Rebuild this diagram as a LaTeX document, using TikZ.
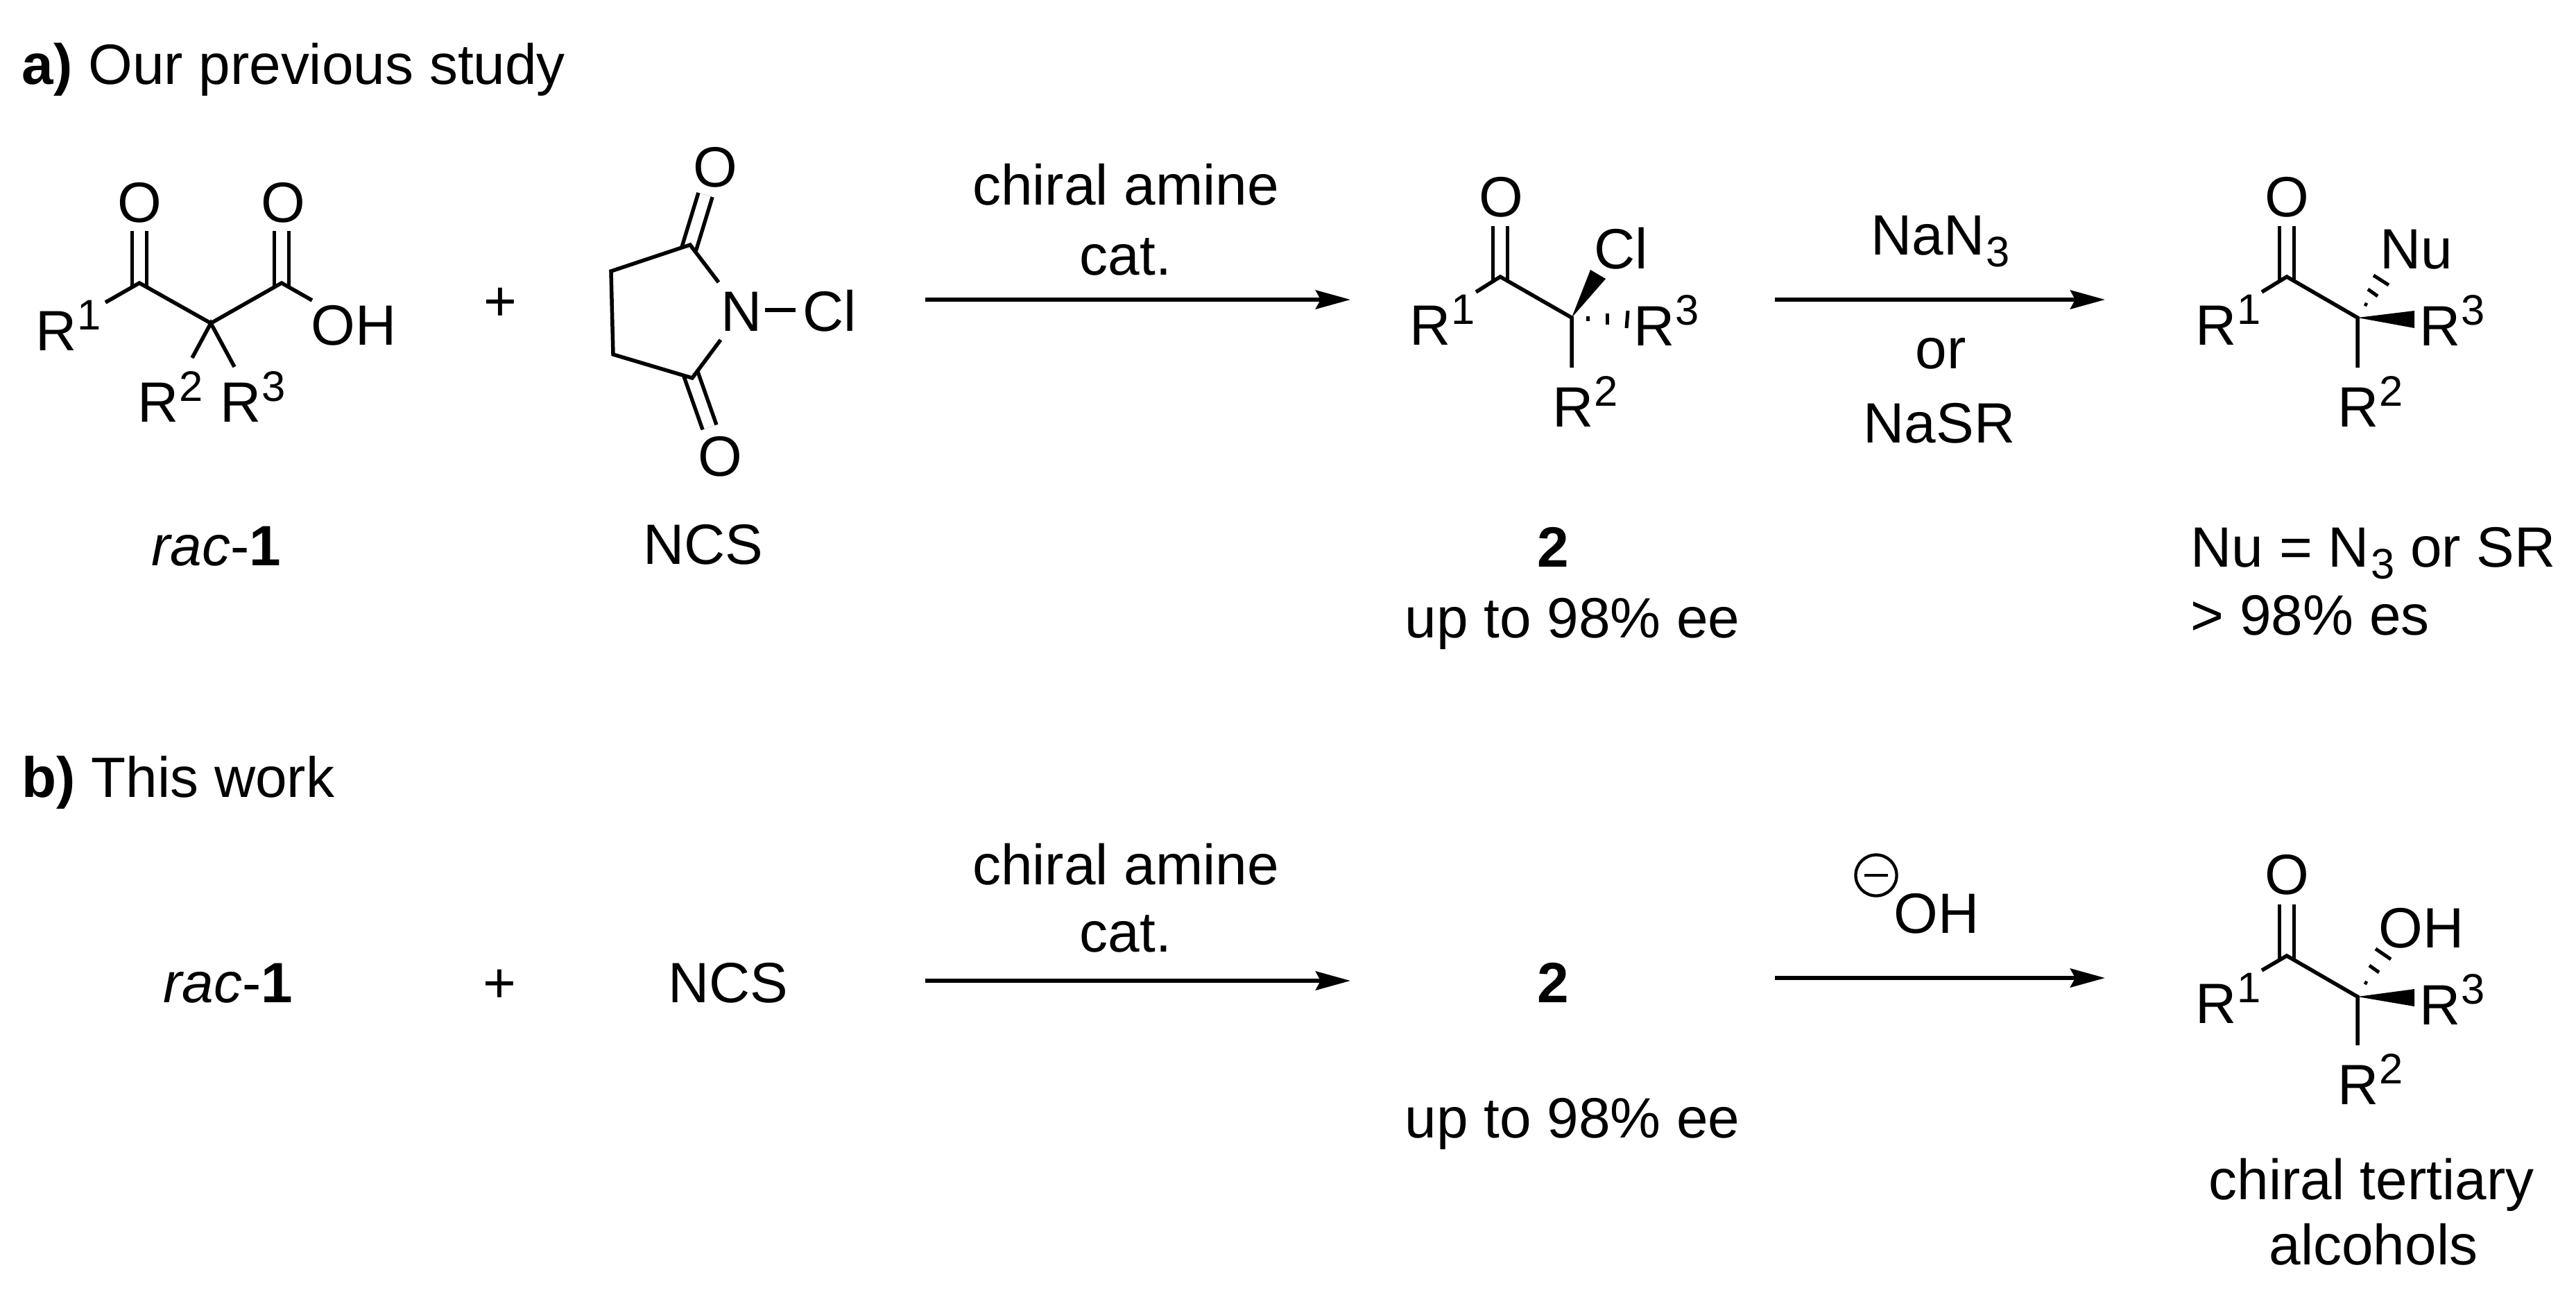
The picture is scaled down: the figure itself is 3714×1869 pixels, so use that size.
\documentclass[tikz,border=0pt]{standalone}
\usepackage{fontspec}
\usepackage{tikz}
\usetikzlibrary{arrows.meta}
\setmainfont{Liberation Sans}
\newcommand{\Rlab}[1]{R\hspace{0.01cm}\raisebox{0.295cm}{\fontsize{17.5}{20}\selectfont #1}}
\newcommand{\Sub}[1]{\hspace{0.02cm}\raisebox{-0.17cm}{\fontsize{17.5}{20}\selectfont #1}}
\tikzset{
  ctr/.style={anchor=base,inner sep=0pt,font=\fontsize{23.3}{28}\selectfont},
  lft/.style={anchor=base west,inner sep=0pt,font=\fontsize{23.3}{28}\selectfont},
  bond/.style={line width=0.055cm},
  hash/.style={line width=0.05cm},
  dbl/.style={line width=0.055cm,double,double distance=0.155cm,shorten <=-0.06cm},
  rxn/.style={line width=0.06cm,-{Stealth[length=0.5cm,width=0.27cm,inset=0.07cm]}}
}

\begin{document}
\begin{tikzpicture}[x=0.01cm,y=-0.01cm]
    \useasboundingbox (0,0) rectangle (3714,1869);

    % headings
    \node [lft] (heada) at (31, 121) {\textbf{a)} Our previous study};
    \node [lft] (headb) at (31, 1149) {\textbf{b)} This work};

    % rac-1
    \coordinate (c1) at (201, 408);
    \coordinate (c2) at (304, 466);
    \coordinate (c3) at (406, 408);
    \coordinate (r1end) at (152, 436);
    \coordinate (ohend) at (450, 433);
    \coordinate (r2end) at (277, 516);
    \coordinate (r3end) at (338, 529);
    \coordinate (o1end) at (201, 333);
    \coordinate (o2end) at (406, 333);
    \node [ctr] (o1) at (201, 320) {O};
    \node [ctr] (o2) at (408, 320) {O};
    \node [lft] (r1) at (51, 505) {\Rlab{1}};
    \node [lft] (oh) at (448, 497) {OH};
    \node [lft] (r2) at (198, 608) {\Rlab{2}};
    \node [lft] (r3) at (317, 608) {\Rlab{3}};
    \draw [dbl] (c1) -- (o1end);
    \draw [dbl] (c3) -- (o2end);
    \draw [bond] (r1end) -- (c1) -- (c2) -- (c3) -- (ohend);
    \draw [bond] (r2end) -- (c2) -- (r3end);
    \node [ctr] (plusa) at (721, 462) {+};
    \node [ctr] (laba) at (312, 815) {\textit{rac}-\textbf{1}};

    % NCS
    \coordinate (nc1) at (995, 353);
    \coordinate (nc2) at (881, 391);
    \coordinate (nc3) at (884, 511);
    \coordinate (nc4) at (998, 545);
    \coordinate (nend1) at (1036, 407);
    \coordinate (nend2) at (1039, 490);
    \coordinate (nclend) at (1147, 447);
    \coordinate (nnend) at (1103, 447);
    \coordinate (no1end) at (1017, 281);
    \coordinate (no2end) at (1023, 616);
    \node [lft] (n) at (1039, 477) {N};
    \node [lft] (cl) at (1157, 477) {Cl};
    \node [ctr] (no1) at (1031, 269) {O};
    \node [ctr] (no2) at (1038, 686) {O};
    \draw [dbl] (nc1) -- (no1end);
    \draw [dbl] (nc4) -- (no2end);
    \draw [bond,line join=miter] (nend1) -- (nc1) -- (nc2) -- (nc3) -- (nc4) -- (nend2);
    \draw [bond] (nnend) -- (nclend);
    \node [ctr] (ncsa) at (1014, 813) {NCS};

    % first arrow
    \coordinate (ara1) at (1334, 432);
    \coordinate (ara2) at (1947, 432);
    \draw [rxn] (ara1) -- (ara2);
    \node [ctr] (cata1) at (1623, 295) {chiral amine};
    \node [ctr] (cata2) at (1623, 396) {cat.};

    % 2
    \coordinate (d1) at (2163, 399);
    \coordinate (d2) at (2266, 458);
    \coordinate (dr1end) at (2128, 421);
    \coordinate (dr2end) at (2266, 530);
    \coordinate (do1end) at (2163, 326);
    \coordinate (dcla) at (2293, 389);
    \coordinate (dclb) at (2315, 402);
    \node [ctr] (do1) at (2164, 312) {O};
    \node [lft] (dcl) at (2298, 387) {Cl};
    \node [lft] (dr1) at (2032, 497) {\Rlab{1}};
    \node [lft] (dr3) at (2355, 498) {\Rlab{3}};
    \node [lft] (dr2) at (2238, 615) {\Rlab{2}};
    \draw [dbl] (d1) -- (do1end);
    \draw [bond] (dr1end) -- (d1) -- (d2) -- (dr2end);
    \fill (d2) -- (dcla) -- (dclb) -- cycle;
    \draw [hash] (2289, 456) -- (2289, 463);
    \draw [hash] (2317, 452) -- (2317, 468);
    \draw [hash] (2347, 448) -- (2345, 473);
    \node [ctr] (lab2a) at (2239, 817) {\textbf{2}};
    \node [ctr] (eea) at (2267, 919) {up to 98\% ee};

    % second arrow
    \coordinate (arb1) at (2559, 432);
    \coordinate (arb2) at (3035, 432);
    \draw [rxn] (arb1) -- (arb2);
    \node [lft] (nan) at (2697, 367) {NaN\Sub{3}};
    \node [ctr] (orr) at (2798, 531) {or};
    \node [lft] (nasr) at (2686, 638) {NaSR};

    % Nu product
    \coordinate (e1) at (3297, 399);
    \coordinate (e2) at (3399, 458);
    \coordinate (er1end) at (3261, 421);
    \coordinate (er2end) at (3399, 530);
    \coordinate (eo1end) at (3297, 326);
    \coordinate (ewa) at (3481, 448);
    \coordinate (ewb) at (3481, 473);
    \node [ctr] (eo1) at (3297, 312) {O};
    \node [lft] (enu) at (3431, 387) {Nu};
    \node [lft] (er1) at (3165, 497) {\Rlab{1}};
    \node [lft] (er3) at (3488, 498) {\Rlab{3}};
    \node [lft] (er2) at (3370, 615) {\Rlab{2}};
    \draw [dbl] (e1) -- (eo1end);
    \draw [bond] (er1end) -- (e1) -- (e2) -- (er2end);
    \fill (e2) -- (ewa) -- (ewb) -- cycle;
    \draw [hash] (3409, 438) -- (3413, 440);
    \draw [hash] (3414, 417) -- (3428, 427);
    \draw [hash] (3422, 397) -- (3444, 411);
    \node [lft] (nulab) at (3158, 817) {Nu = N\Sub{3} or SR};
    \node [lft] (eslab) at (3158, 915) {> 98\% es};

    % part b
    \node [ctr] (labb) at (329, 1445) {\textit{rac}-\textbf{1}};
    \node [ctr] (plusb) at (720, 1445) {+};
    \node [ctr] (ncsb) at (1050, 1445) {NCS};
    \coordinate (arc1) at (1334, 1414);
    \coordinate (arc2) at (1947, 1414);
    \draw [rxn] (arc1) -- (arc2);
    \node [ctr] (catb1) at (1623, 1275) {chiral amine};
    \node [ctr] (catb2) at (1623, 1372) {cat.};
    \node [ctr] (lab2b) at (2239, 1445) {\textbf{2}};
    \node [ctr] (eeb) at (2267, 1640) {up to 98\% ee};
    \coordinate (ard1) at (2559, 1410);
    \coordinate (ard2) at (3035, 1410);
    \draw [rxn] (ard1) -- (ard2);
    \node [draw,circle,line width=0.043cm,minimum size=0.59cm,inner sep=0pt] (minus) at (2705, 1262) {};
    \draw [line width=0.043cm] ([xshift=-0.17cm]minus.center) -- ([xshift=0.17cm]minus.center);
    \node [lft] (hyd) at (2730, 1345) {OH};

    % alcohol product
    \coordinate (f1) at (3297, 1378);
    \coordinate (f2) at (3399, 1437);
    \coordinate (fr1end) at (3261, 1399);
    \coordinate (fr2end) at (3399, 1507);
    \coordinate (fo1end) at (3297, 1304);
    \coordinate (fwa) at (3481, 1426);
    \coordinate (fwb) at (3481, 1451);
    \node [ctr] (fo1) at (3297, 1289) {O};
    \node [lft] (foh) at (3429, 1366) {OH};
    \node [lft] (fr1) at (3165, 1475) {\Rlab{1}};
    \node [lft] (fr3) at (3488, 1477) {\Rlab{3}};
    \node [lft] (fr2) at (3370, 1592) {\Rlab{2}};
    \draw [dbl] (f1) -- (fo1end);
    \draw [bond] (fr1end) -- (f1) -- (f2) -- (fr2end);
    \fill (f2) -- (fwa) -- (fwb) -- cycle;
    \draw [hash] (3409, 1416) -- (3413, 1418);
    \draw [hash] (3416, 1392) -- (3430, 1402);
    \draw [hash] (3425, 1368) -- (3447, 1383);
    \node [ctr] (alc1) at (3419, 1729) {chiral tertiary};
    \node [ctr] (alc2) at (3422, 1823) {alcohols};
  \end{tikzpicture}
\end{document}
